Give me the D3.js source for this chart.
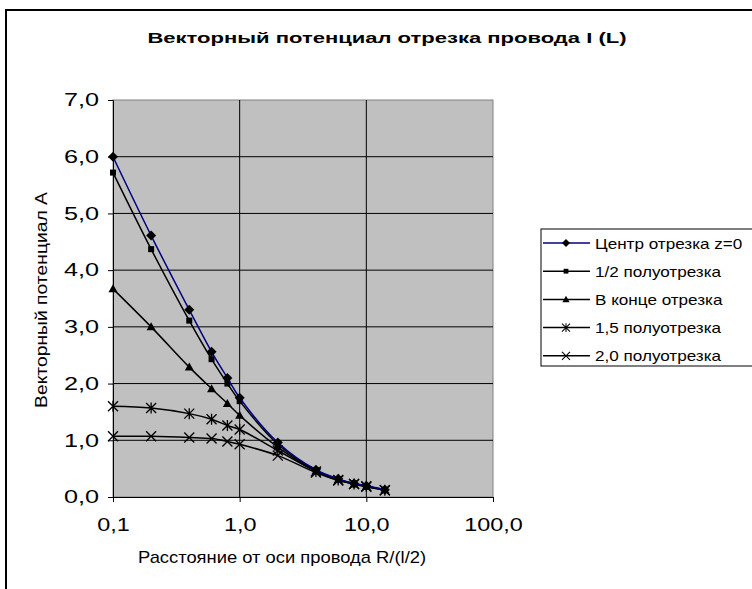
<!DOCTYPE html>
<html>
<head>
<meta charset="utf-8">
<script src="https://cdn.jsdelivr.net/npm/d3@7"></script>
<style>
  body { margin: 0; background: #fff; }
  text { font-family: "Liberation Sans", Arial, sans-serif; fill: #000; }
</style>
</head>
<body>
<div id="chart"></div>
<script>
// data
let xValues = [0.1, 0.2, 0.4, 0.6, 0.8, 1.0, 2.0, 4.0, 6.0, 8.0, 10.0, 14.0];
let center = [6.00, 4.61, 3.30, 2.56, 2.10, 1.75, 0.96, 0.48, 0.32, 0.24, 0.20, 0.13];
let half = [5.72, 4.37, 3.11, 2.43, 2.00, 1.69, 0.93, 0.47, 0.31, 0.24, 0.19, 0.13];
let atEnd = [3.67, 3.00, 2.29, 1.91, 1.65, 1.44, 0.88, 0.46, 0.31, 0.23, 0.19, 0.13];
let oneAndHalf = [1.60, 1.57, 1.47, 1.37, 1.26, 1.19, 0.82, 0.45, 0.30, 0.23, 0.19, 0.12];
let twoHalves = [1.07, 1.07, 1.05, 1.03, 0.98, 0.93, 0.73, 0.43, 0.29, 0.23, 0.18, 0.12];
let seriesNames = ["Центр отрезка z=0", "1/2 полуотрезка", "В конце отрезка", "1,5 полуотрезка", "2,0 полуотрезка"];
let xTicks = [0.1, 1, 10, 100];
let yTicks = [0, 1, 2, 3, 4, 5, 6, 7];

let series = [
    { name: seriesNames[0], values: center, color: "#000080", marker: "diamond" },
    { name: seriesNames[1], values: half, color: "#000", marker: "square" },
    { name: seriesNames[2], values: atEnd, color: "#000", marker: "triangle" },
    { name: seriesNames[3], values: oneAndHalf, color: "#000", marker: "star" },
    { name: seriesNames[4], values: twoHalves, color: "#000", marker: "cross" }
];

let width = 752, height = 589;
let plot = { left: 113, right: 493, top: 100, bottom: 497 };

// the source picture has horizontally widened lettering
function stretch(sel, factor) {
    sel.each(function () {
        let w = this.getComputedTextLength();
        this.setAttribute("textLength", w * factor);
        this.setAttribute("lengthAdjust", "spacingAndGlyphs");
    });
}

let svg = d3.select("#chart")
    .append("svg")
    .attr("width", width)
    .attr("height", height);

// outer chart frame
svg.append("rect")
    .attr("x", 6).attr("y", 10)
    .attr("width", 760).attr("height", 600)
    .attr("fill", "#fff")
    .attr("stroke", "#000")
    .attr("stroke-width", 2);

let x = d3.scaleLog().domain([0.1, 100]).range([plot.left, plot.right]);
let y = d3.scaleLinear().domain([0, 7]).range([plot.bottom, plot.top]);

// plot area
svg.append("rect")
    .attr("x", plot.left).attr("y", plot.top)
    .attr("width", plot.right - plot.left)
    .attr("height", plot.bottom - plot.top)
    .attr("fill", "#c0c0c0")
    .attr("stroke", "#808080");

// grid lines
svg.append("g")
    .selectAll("line")
    .data(yTicks.slice(1, -1))
    .enter()
    .append("line")
    .attr("x1", plot.left).attr("x2", plot.right)
    .attr("y1", d => y(d)).attr("y2", d => y(d))
    .attr("stroke", "#000");

svg.append("g")
    .selectAll("line")
    .data(xTicks.slice(1, -1))
    .enter()
    .append("line")
    .attr("x1", d => x(d)).attr("x2", d => x(d))
    .attr("y1", plot.top).attr("y2", plot.bottom)
    .attr("stroke", "#000");

// axes
let fmt = d => d3.format(".1f")(d).replace(".", ",");

let yAxis = svg.append("g")
    .attr("transform", `translate(${plot.left},0)`)
    .call(d3.axisLeft(y).tickValues(yTicks).tickFormat(fmt).tickSize(5).tickPadding(9));
yAxis.selectAll("text").attr("font-size", "18px").attr("font-family", "Liberation Sans");
stretch(yAxis.selectAll("text"), 1.4);

let xAxis = svg.append("g")
    .attr("transform", `translate(0,${plot.bottom})`)
    .call(d3.axisBottom(x).tickValues(xTicks).tickFormat(fmt).tickSize(5));
xAxis.selectAll("text").attr("font-size", "18px").attr("font-family", "Liberation Sans")
    .attr("y", 34).attr("dy", null);
stretch(xAxis.selectAll("text"), 1.3);

svg.selectAll(".domain").attr("stroke", "#000");
svg.selectAll(".tick line").attr("stroke", "#000");

// titles
let title = svg.append("text")
    .attr("x", 387).attr("y", 43)
    .attr("text-anchor", "middle")
    .attr("font-size", "15.5px")
    .attr("font-weight", "bold")
    .text("Векторный потенциал отрезка провода I (L)");
stretch(title, 1.42);

let xTitle = svg.append("text")
    .attr("x", 138).attr("y", 563)
    .attr("font-size", "17px")
    .text("Расстояние от оси провода R/(l/2)");
stretch(xTitle, 1.08);

let yTitle = svg.append("text")
    .attr("transform", "rotate(-90)")
    .attr("x", -300).attr("y", 47)
    .attr("text-anchor", "middle")
    .attr("font-size", "16.5px")
    .text("Векторный потенциал А");
stretch(yTitle, 1.17);

// markers
function drawMarker(g, type) {
    if (type === "diamond") {
        g.append("path").attr("d", "M0,-5L5,0L0,5L-5,0Z").attr("fill", "#000");
    } else if (type === "square") {
        g.append("rect").attr("x", -3).attr("y", -3).attr("width", 6).attr("height", 6).attr("fill", "#000");
    } else if (type === "triangle") {
        g.append("path").attr("d", "M0,-4.5L4.5,3.5L-4.5,3.5Z").attr("fill", "#000");
    } else if (type === "star") {
        g.append("path").attr("d", "M-5,-5L5,5M-5,5L5,-5M0,-5.5L0,5.5")
            .attr("stroke", "#000").attr("stroke-width", 1.3).attr("fill", "none");
    } else if (type === "cross") {
        g.append("path").attr("d", "M-5,-5L5,5M-5,5L5,-5")
            .attr("stroke", "#000").attr("stroke-width", 1.3).attr("fill", "none");
    }
}

let line = d3.line()
    .x((d, i) => x(xValues[i]))
    .y(d => y(d))
    .curve(d3.curveCatmullRom.alpha(0.5));

series.slice().reverse().forEach(s => {
    svg.append("path")
        .datum(s.values)
        .attr("d", line)
        .attr("fill", "none")
        .attr("stroke", s.color)
        .attr("stroke-width", 1.5);

    s.values.forEach((v, i) => {
        let g = svg.append("g").attr("transform", `translate(${x(xValues[i])},${y(v)})`);
        drawMarker(g, s.marker);
    });
});

// legend
let legend = svg.append("g").attr("transform", "translate(541,229)");
legend.append("rect")
    .attr("width", 220).attr("height", 137)
    .attr("fill", "#fff")
    .attr("stroke", "#000");

series.forEach((s, i) => {
    let row = legend.append("g").attr("transform", `translate(0,${14 + i * 28.2})`);
    row.append("line")
        .attr("x1", 2).attr("x2", 49)
        .attr("stroke", s.color).attr("stroke-width", 1.5);
    let m = row.append("g").attr("transform", "translate(25,0) scale(0.8)");
    drawMarker(m, s.marker);
    let t = row.append("text")
        .attr("x", 54).attr("y", 5.5)
        .attr("font-size", "15px")
        .text(s.name);
    stretch(t, 1.14);
});
</script>
</body>
</html>
